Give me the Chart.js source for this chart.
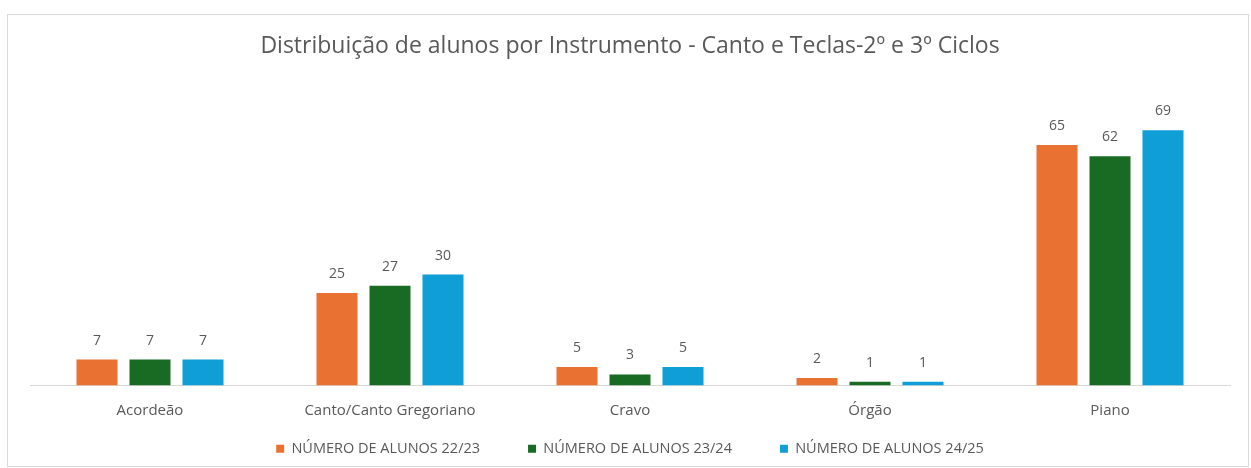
<!DOCTYPE html>
<html lang="pt">
<head>
<meta charset="utf-8">
<title>Distribuição de alunos por Instrumento</title>
<script src="https://cdn.jsdelivr.net/npm/chart.js@4.4.1/dist/chart.umd.min.js"></script>
<style>
	html, body {
		margin: 0;
		padding: 0;
		background: #ffffff;
	}
	#frame {
		position: absolute;
		left: 7px;
		top: 14px;
		width: 1240px;
		height: 451px;
		border: 1px solid #d9d9d9;
		background: #ffffff;
	}
	#frame canvas {
		display: block;
	}
</style>
</head>
<body>
<div id="frame">
	<canvas id="alunos-chart" width="1240" height="451"></canvas>
</div>
<script>
const chartTitle = "Distribuição de alunos por Instrumento - Canto e Teclas-2º e 3º Ciclos";
const instrumentos = ["Acordeão", "Canto/Canto Gregoriano", "Cravo", "Órgão", "Piano"];
const seriesLabels = ["NÚMERO DE ALUNOS 22/23", "NÚMERO DE ALUNOS 23/24", "NÚMERO DE ALUNOS 24/25"];
const alunos2223 = [7, 25, 5, 2, 65];
const alunos2324 = [7, 27, 3, 1, 62];
const alunos2425 = [7, 30, 5, 1, 69];
const seriesColors = ["#e97132", "#196b24", "#0f9ed5"];

const textColor = "#595959";
const fontFamily = "'Open Sans', Lato, sans-serif";

// value labels written above each bar
const barValueLabels = {
	id: "barValueLabels",
	afterDatasetsDraw(chart) {
		const ctx = chart.ctx;
		ctx.save();
		ctx.font = "14px " + fontFamily;
		ctx.fillStyle = textColor;
		ctx.textAlign = "center";
		ctx.textBaseline = "middle";
		chart.data.datasets.forEach((dataset, i) => {
			const meta = chart.getDatasetMeta(i);
			meta.data.forEach((bar, j) => {
				ctx.fillText(String(dataset.data[j]), bar.x, bar.y - 19);
			});
		});
		ctx.restore();
	},
};

// the legend padding gives the wide gap between items, but it also makes the
// legend box tall: hand part of that height back to the layout and let the
// legend draw from a top edge raised by the same amount
const legendPadding = 48;
const legendLift = 42;

const compactLegend = {
	id: "compactLegend",
	afterInit(chart) {
		const legend = chart.legend;
		const fit = legend.fit;
		legend.fit = function () {
			fit.call(this);
			this.height -= legendLift;
		};
		const draw = legend.draw;
		legend.draw = function (area) {
			this.top -= legendLift;
			draw.call(this, area);
			this.top += legendLift;
		};
	},
};

new Chart(document.getElementById("alunos-chart"), {
	type: "bar",
	data: {
		labels: instrumentos,
		datasets: [alunos2223, alunos2324, alunos2425].map((values, i) => ({
			label: seriesLabels[i],
			data: values,
			backgroundColor: seriesColors[i],
			borderWidth: 0,
			categoryPercentage: 0.6625,
			barPercentage: 0.774,
		})),
	},
	options: {
		responsive: false,
		animation: false,
		events: [],
		layout: {
			padding: { left: 22, right: 18, top: 0, bottom: 0 },
		},
		scales: {
			x: {
				grid: { display: false, drawTicks: false },
				border: { display: true, color: "#d9d9d9", width: 1 },
				ticks: {
					color: textColor,
					font: { family: fontFamily, size: 15 },
					padding: 16,
					maxRotation: 0,
				},
			},
			y: {
				display: false,
				min: 0,
				max: 80,
			},
		},
		plugins: {
			title: {
				display: true,
				text: chartTitle,
				color: textColor,
				font: { family: fontFamily, size: 23, weight: "normal" },
				padding: { top: 18, bottom: 29 },
			},
			legend: {
				position: "bottom",
				labels: {
					color: textColor,
					font: { family: fontFamily, size: 14.5 },
					boxWidth: 8,
					boxHeight: 8,
					padding: legendPadding,
				},
			},
			tooltip: { enabled: false },
		},
	},
	plugins: [barValueLabels, compactLegend],
});
</script>
</body>
</html>
